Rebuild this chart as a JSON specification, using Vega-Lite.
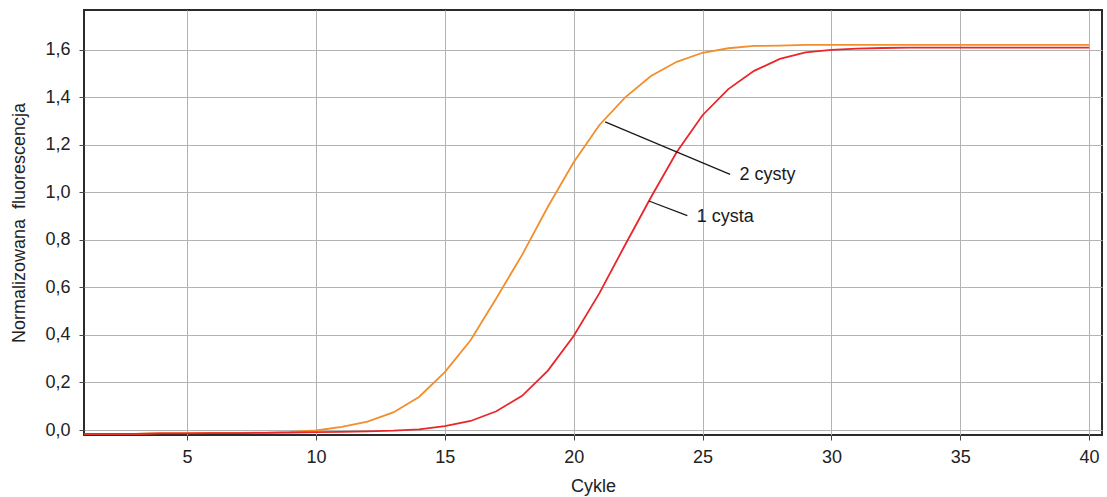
{
  "$schema": "https://vega.github.io/schema/vega-lite/v6.json",
  "width": 1018,
  "height": 425,
  "autosize": {"type": "none"},
  "padding": {"left": 84, "top": 10, "right": 5, "bottom": 62},
  "background": "white",
  "config": {
    "view": {"stroke": "#2b2b2b", "strokeWidth": 2},
    "font": "Liberation Sans",
    "axis": {
      "labelFont": "Liberation Sans",
      "titleFont": "Liberation Sans",
      "labelFontSize": 18,
      "titleFontSize": 18,
      "titleFontWeight": "normal",
      "labelColor": "#222",
      "titleColor": "#222",
      "gridColor": "#b3b3b3",
      "gridWidth": 1,
      "gridOpacity": 1,
      "tickColor": "#444",
      "tickSize": 5,
      "domain": false
    }
  },
  "datasets": {
    "curves": [
      {"cycle": 1, "value": -0.016, "series": "2 cysty"},
      {"cycle": 2, "value": -0.016, "series": "2 cysty"},
      {"cycle": 3, "value": -0.016, "series": "2 cysty"},
      {"cycle": 4, "value": -0.013, "series": "2 cysty"},
      {"cycle": 5, "value": -0.013, "series": "2 cysty"},
      {"cycle": 6, "value": -0.012, "series": "2 cysty"},
      {"cycle": 7, "value": -0.012, "series": "2 cysty"},
      {"cycle": 8, "value": -0.011, "series": "2 cysty"},
      {"cycle": 9, "value": -0.008, "series": "2 cysty"},
      {"cycle": 10, "value": -0.002, "series": "2 cysty"},
      {"cycle": 11, "value": 0.013, "series": "2 cysty"},
      {"cycle": 12, "value": 0.035, "series": "2 cysty"},
      {"cycle": 13, "value": 0.074, "series": "2 cysty"},
      {"cycle": 14, "value": 0.139, "series": "2 cysty"},
      {"cycle": 15, "value": 0.244, "series": "2 cysty"},
      {"cycle": 16, "value": 0.378, "series": "2 cysty"},
      {"cycle": 17, "value": 0.555, "series": "2 cysty"},
      {"cycle": 18, "value": 0.737, "series": "2 cysty"},
      {"cycle": 19, "value": 0.94, "series": "2 cysty"},
      {"cycle": 20, "value": 1.127, "series": "2 cysty"},
      {"cycle": 21, "value": 1.284, "series": "2 cysty"},
      {"cycle": 22, "value": 1.4, "series": "2 cysty"},
      {"cycle": 23, "value": 1.49, "series": "2 cysty"},
      {"cycle": 24, "value": 1.55, "series": "2 cysty"},
      {"cycle": 25, "value": 1.588, "series": "2 cysty"},
      {"cycle": 26, "value": 1.607, "series": "2 cysty"},
      {"cycle": 27, "value": 1.617, "series": "2 cysty"},
      {"cycle": 28, "value": 1.618, "series": "2 cysty"},
      {"cycle": 29, "value": 1.621, "series": "2 cysty"},
      {"cycle": 30, "value": 1.621, "series": "2 cysty"},
      {"cycle": 31, "value": 1.621, "series": "2 cysty"},
      {"cycle": 32, "value": 1.621, "series": "2 cysty"},
      {"cycle": 33, "value": 1.621, "series": "2 cysty"},
      {"cycle": 34, "value": 1.621, "series": "2 cysty"},
      {"cycle": 35, "value": 1.621, "series": "2 cysty"},
      {"cycle": 36, "value": 1.621, "series": "2 cysty"},
      {"cycle": 37, "value": 1.621, "series": "2 cysty"},
      {"cycle": 38, "value": 1.621, "series": "2 cysty"},
      {"cycle": 39, "value": 1.621, "series": "2 cysty"},
      {"cycle": 40, "value": 1.621, "series": "2 cysty"},
      {"cycle": 1, "value": -0.016, "series": "1 cysta"},
      {"cycle": 2, "value": -0.016, "series": "1 cysta"},
      {"cycle": 3, "value": -0.016, "series": "1 cysta"},
      {"cycle": 4, "value": -0.014, "series": "1 cysta"},
      {"cycle": 5, "value": -0.014, "series": "1 cysta"},
      {"cycle": 6, "value": -0.013, "series": "1 cysta"},
      {"cycle": 7, "value": -0.013, "series": "1 cysta"},
      {"cycle": 8, "value": -0.012, "series": "1 cysta"},
      {"cycle": 9, "value": -0.011, "series": "1 cysta"},
      {"cycle": 10, "value": -0.009, "series": "1 cysta"},
      {"cycle": 11, "value": -0.008, "series": "1 cysta"},
      {"cycle": 12, "value": -0.006, "series": "1 cysta"},
      {"cycle": 13, "value": -0.003, "series": "1 cysta"},
      {"cycle": 14, "value": 0.003, "series": "1 cysta"},
      {"cycle": 15, "value": 0.016, "series": "1 cysta"},
      {"cycle": 16, "value": 0.038, "series": "1 cysta"},
      {"cycle": 17, "value": 0.079, "series": "1 cysta"},
      {"cycle": 18, "value": 0.144, "series": "1 cysta"},
      {"cycle": 19, "value": 0.25, "series": "1 cysta"},
      {"cycle": 20, "value": 0.396, "series": "1 cysta"},
      {"cycle": 21, "value": 0.576, "series": "1 cysta"},
      {"cycle": 22, "value": 0.78, "series": "1 cysta"},
      {"cycle": 23, "value": 0.98, "series": "1 cysta"},
      {"cycle": 24, "value": 1.17, "series": "1 cysta"},
      {"cycle": 25, "value": 1.325, "series": "1 cysta"},
      {"cycle": 26, "value": 1.435, "series": "1 cysta"},
      {"cycle": 27, "value": 1.512, "series": "1 cysta"},
      {"cycle": 28, "value": 1.562, "series": "1 cysta"},
      {"cycle": 29, "value": 1.59, "series": "1 cysta"},
      {"cycle": 30, "value": 1.6, "series": "1 cysta"},
      {"cycle": 31, "value": 1.605, "series": "1 cysta"},
      {"cycle": 32, "value": 1.608, "series": "1 cysta"},
      {"cycle": 33, "value": 1.61, "series": "1 cysta"},
      {"cycle": 34, "value": 1.61, "series": "1 cysta"},
      {"cycle": 35, "value": 1.61, "series": "1 cysta"},
      {"cycle": 36, "value": 1.61, "series": "1 cysta"},
      {"cycle": 37, "value": 1.61, "series": "1 cysta"},
      {"cycle": 38, "value": 1.61, "series": "1 cysta"},
      {"cycle": 39, "value": 1.61, "series": "1 cysta"},
      {"cycle": 40, "value": 1.61, "series": "1 cysta"}
    ],
    "notes": [
      {"x": 21.22, "y": 1.297, "x2": 26.07, "y2": 1.076, "lx": 26.43, "ly": 1.074, "label": "2 cysty"},
      {"x": 22.92, "y": 0.964, "x2": 24.41, "y2": 0.902, "lx": 24.78, "ly": 0.898, "label": "1 cysta"}
    ]
  },
  "layer": [
    {
      "data": {"name": "curves"},
      "mark": {"type": "line", "strokeWidth": 1.8, "clip": true},
      "encoding": {
        "x": {
          "field": "cycle", "type": "quantitative",
          "scale": {"domain": [1, 40.5], "nice": false, "zero": false},
          "axis": {
            "title": "Cykle",
            "values": [5, 10, 15, 20, 25, 30, 35, 40],
            "labelPadding": 8,
            "titlePadding": 11,
            "grid": true
          }
        },
        "y": {
          "field": "value", "type": "quantitative",
          "scale": {"domain": [-0.021, 1.768], "nice": false, "zero": false},
          "axis": {
            "title": "Normalizowana\u00a0 fluorescencja",
            "values": [0, 0.2, 0.4, 0.6, 0.8, 1.0, 1.2, 1.4, 1.6],
            "labelExpr": "replace(format(datum.value, '.1f'), '.', ',')",
            "labelPadding": 9,
            "titlePadding": 16,
            "grid": true
          }
        },
        "color": {
          "field": "series", "type": "nominal",
          "scale": {"domain": ["2 cysty", "1 cysta"], "range": ["#f28e2b", "#e8262b"]},
          "legend": null
        },
        "detail": {"field": "series"}
      }
    },
    {
      "data": {"name": "notes"},
      "mark": {"type": "rule", "color": "#1a1a1a", "strokeWidth": 1.3},
      "encoding": {
        "x": {"field": "x", "type": "quantitative"},
        "y": {"field": "y", "type": "quantitative"},
        "x2": {"field": "x2"},
        "y2": {"field": "y2"}
      }
    },
    {
      "data": {"name": "notes"},
      "mark": {"type": "text", "align": "left", "baseline": "middle", "fontSize": 18, "font": "Liberation Sans", "color": "#1a1a1a"},
      "encoding": {
        "x": {"field": "lx", "type": "quantitative"},
        "y": {"field": "ly", "type": "quantitative"},
        "text": {"field": "label"}
      }
    }
  ]
}
